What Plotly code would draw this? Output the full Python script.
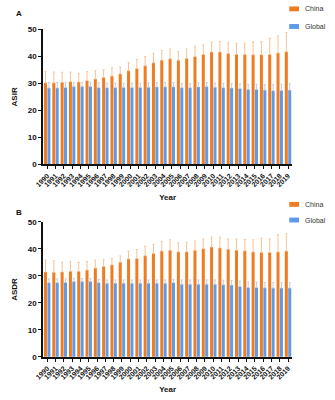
import plotly.graph_objects as go
from plotly.subplots import make_subplots

years = [str(y) for y in range(1990, 2020)]

# Panel A: ASIR
asir_china = [30.2, 30.2, 30.4, 30.6, 30.5, 31.0, 31.6, 32.2, 32.7, 33.5,
              34.7, 35.5, 36.5, 37.6, 38.6, 39.1, 38.6, 39.2, 40.0, 40.7,
              41.6, 41.6, 41.1, 40.7, 40.7, 40.6, 40.6, 40.7, 41.3, 41.7]
asir_china_err = [4.2, 4.0, 3.7, 3.6, 3.2, 3.3, 3.1, 2.8, 3.1, 2.6,
                  3.0, 3.4, 3.4, 3.5, 3.6, 3.6, 3.2, 3.5, 3.7, 3.6,
                  3.7, 3.9, 4.1, 4.2, 4.2, 4.9, 4.9, 6.0, 6.3, 7.2]
asir_global = [28.3, 28.3, 28.5, 28.8, 28.8, 28.8, 28.4, 28.4, 28.4, 28.5,
               28.5, 28.5, 28.6, 28.7, 28.7, 28.7, 28.4, 28.4, 28.7, 28.8,
               28.6, 28.4, 28.3, 28.1, 27.7, 27.7, 27.5, 27.3, 27.4, 27.5]
asir_global_err = [2.0, 2.0, 1.8, 1.6, 1.6, 1.6, 1.8, 1.7, 1.7, 1.6,
                   1.6, 1.6, 1.6, 1.6, 1.6, 1.6, 1.5, 1.5, 1.5, 1.5,
                   1.5, 1.6, 1.6, 1.7, 1.9, 2.0, 2.0, 2.2, 2.3, 2.4]

# Panel B: ASDR
asdr_china = [31.5, 31.4, 31.5, 31.7, 31.7, 32.2, 32.9, 33.5, 34.1, 35.1,
              36.3, 36.5, 37.5, 38.3, 39.2, 39.5, 38.9, 38.9, 39.5, 40.1,
              40.7, 40.4, 39.9, 39.5, 39.3, 38.9, 38.7, 38.7, 38.9, 39.2]
asdr_china_err = [4.4, 4.3, 3.6, 3.6, 3.3, 3.1, 3.0, 2.7, 2.4, 2.3,
                  2.9, 3.3, 3.5, 3.4, 3.6, 3.9, 3.4, 3.6, 3.4, 3.6,
                  3.7, 4.0, 3.8, 4.2, 4.2, 4.5, 5.3, 5.1, 6.4, 6.4]
asdr_global = [27.5, 27.5, 27.6, 27.9, 27.9, 27.9, 27.5, 27.3, 27.3, 27.3,
               27.3, 27.3, 27.3, 27.3, 27.3, 27.5, 26.9, 26.9, 26.9, 26.9,
               26.9, 26.7, 26.6, 26.1, 25.7, 25.7, 25.6, 25.5, 25.5, 25.5]
asdr_global_err = [1.4, 1.4, 1.3, 1.1, 1.1, 1.1, 1.2, 1.2, 1.2, 1.2,
                   1.2, 1.2, 1.2, 1.2, 1.2, 1.2, 1.6, 1.6, 1.6, 1.6,
                   1.6, 1.7, 1.7, 2.0, 2.0, 2.0, 2.0, 2.0, 2.0, 2.0]

series_names = ["China", "Global"]

ORANGE = "#F07C22"
BLUE = "#5D9BE8"
ORANGE_ERR = "#F5C398"
BLUE_ERR = "#B3CFF1"
colors = [ORANGE, BLUE]

fig = make_subplots(rows=2, cols=1)

def add_pair(row, china, china_err, glob, glob_err):
    fig.add_trace(go.Bar(x=years, y=china, name=series_names[0], marker_color=ORANGE,
                         marker_line_width=0, showlegend=False,
                         error_y=dict(type="data", array=china_err, symmetric=False,
                                      arrayminus=[0]*len(china), color=ORANGE_ERR,
                                      thickness=1, width=1)), row=row, col=1)
    fig.add_trace(go.Bar(x=years, y=glob, name=series_names[1], marker_color=BLUE,
                         marker_line_width=0, showlegend=False,
                         error_y=dict(type="data", array=glob_err, symmetric=False,
                                      arrayminus=[0]*len(glob), color=BLUE_ERR,
                                      thickness=1, width=1)), row=row, col=1)

add_pair(1, asir_china, asir_china_err, asir_global, asir_global_err)
add_pair(2, asdr_china, asdr_china_err, asdr_global, asdr_global_err)

W, H = 335, 400
x0, x1 = 35 / W, 291 / W
FAM = "Liberation Sans, Arial"
axfont = dict(family=FAM, size=8, color="#111", weight="bold")
tickfont_x = dict(family=FAM, size=7, color="#111", weight="bold")

common_x = dict(type="category", range=[-0.5, 29.5], showgrid=False, showline=True,
                linecolor="#111", linewidth=1.5, ticks="outside", ticklen=3,
                tickwidth=1.2, tickcolor="#111", tickangle=-45, tickfont=tickfont_x,
                tickmode="array", tickvals=years, ticktext=years,
                title=dict(text="Year", font=axfont, standoff=7), domain=[x0, x1])
common_y = dict(range=[0, 50], dtick=10, showgrid=False, showline=True,
                linecolor="#111", linewidth=1.5, ticks="outside", ticklen=3,
                tickwidth=1.2, tickcolor="#111", tickfont=axfont, zeroline=False)

# manual legends (swatch + label) for each panel
shapes = []
annotations = []
legend_rows = [(5, 23), (205, 221)]
for ys in legend_rows:
    for name, col, yp in zip(series_names, colors, ys):
        shapes.append(dict(type="rect", xref="paper", yref="paper",
                           x0=288 / W, x1=298 / W,
                           y0=1 - (yp + 2.5) / H, y1=1 - (yp - 2.5) / H,
                           fillcolor=col, line=dict(width=0)))
        annotations.append(dict(text=name, x=302 / W, y=1 - yp / H, xref="paper",
                                yref="paper", xanchor="left", yanchor="middle",
                                showarrow=False,
                                font=dict(family=FAM, size=7, color="#333")))

for lab, yp in [("A", 3), ("B", 207)]:
    annotations.append(dict(text=lab, x=5 / W, y=1 - yp / H, xref="paper", yref="paper",
                            xanchor="left", yanchor="top", showarrow=False,
                            font=dict(family=FAM, size=8, color="#111", weight="bold")))

fig.update_layout(
    width=W, height=H, margin=dict(l=0, r=0, t=0, b=0),
    paper_bgcolor="white", plot_bgcolor="white",
    barmode="group", bargap=0.18, bargroupgap=0.12,
    xaxis=dict(common_x),
    xaxis2=dict(common_x),
    yaxis=dict(common_y, domain=[1 - 164 / H, 1 - 26 / H],
               title=dict(text="ASIR", font=axfont, standoff=9)),
    yaxis2=dict(common_y, domain=[1 - 361 / H, 1 - 223 / H],
                title=dict(text="ASDR", font=axfont, standoff=9)),
    shapes=shapes,
    annotations=annotations,
)

fig.write_html("out.html", config={"displayModeBar": False},
               post_script="document.body.style.margin='0';document.body.style.overflow='hidden';")
